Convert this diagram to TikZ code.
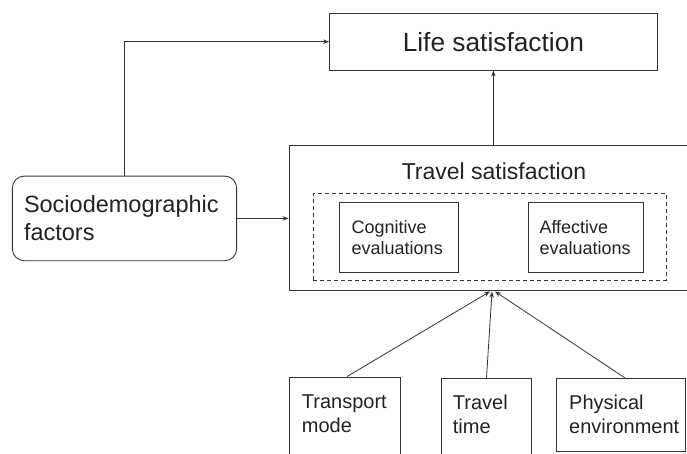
\documentclass[tikz,border=0pt]{standalone}
\usepackage{fontspec}
\setmainfont{Liberation Sans}
\usetikzlibrary{arrows.meta}
\definecolor{ink}{HTML}{222222}
\definecolor{edge}{HTML}{333333}
\begin{document}
\begin{tikzpicture}[x=1pt,y=-1pt,
  box/.style={draw=edge, line width=0.9pt, rectangle, inner sep=0pt, text=ink},
  lbl/.style={text=ink, inner sep=0pt, align=left},
  arr/.style={-{Stealth[length=6pt,width=4.5pt]}, draw=edge, line width=0.8pt}]
\useasboundingbox (0,0) rectangle (687,453);
\begin{scope}
\clip (0,0) rectangle (687,453);
% top box
\node[box, minimum width=327.8pt, minimum height=56.7pt, font=\fontsize{26.3}{30}\selectfont]
  (life) at (493.4,41.7) {Life satisfaction};
% travel satisfaction container
\node[box, minimum width=411pt, minimum height=145pt] (travel) at (494.5,217.5) {};
\node[lbl, font=\fontsize{23}{27}\selectfont] (title) at (494,171) {Travel satisfaction};
\node[box, dash pattern=on 4pt off 3pt, minimum width=353pt, minimum height=86.7pt]
  (eval) at (489.5,236.7) {};
\node[box, minimum width=119.2pt, minimum height=69.6pt, text width=95pt, inner xsep=12.1pt,
  align=left, font=\fontsize{18}{21.3}\selectfont]
  (cog) at (399.2,237.5) {Cognitive\\evaluations};
\node[box, minimum width=115pt, minimum height=69.6pt, text width=92pt, inner xsep=11.5pt,
  align=left, font=\fontsize{18}{21.3}\selectfont]
  (aff) at (585.5,237.5) {Affective\\evaluations};
% sociodemographic
\node[box, rounded corners=12pt, minimum width=224.3pt, minimum height=84.7pt, text width=201pt,
  inner xsep=11.65pt, align=left, font=\fontsize{23.5}{27.7}\selectfont]
  (socio) at (124.5,218.4) {Sociodemographic\\factors};
% bottom boxes
\node[box, minimum width=111.4pt, minimum height=93pt] (tm) at (345,423.5) {};
\node[box, minimum width=90.5pt, minimum height=93pt] (tt) at (486.5,424.8) {};
\node[box, minimum width=128.3pt, minimum height=73.2pt] (pe) at (620.9,414.9) {};
\node[lbl, anchor=north west, font=\fontsize{20}{23.3}\selectfont] (tmt) at (301.7,395) {Transport\\mode};
\node[lbl, anchor=north west, font=\fontsize{20}{23.3}\selectfont] (ttt) at (452.7,395) {Travel\\time};
\node[lbl, anchor=north west, font=\fontsize{20}{23.3}\selectfont] (pet) at (569,395) {Physical\\environment};
% connectors
\coordinate (h1) at (490,291.5);
\coordinate (h2) at (492,291.5);
\coordinate (h3) at (495,291.5);
\draw[arr] (socio.north) |- (life.west);
\draw[arr] (life.south |- travel.north) -- (life.south);
\draw[arr] (socio.east) -- (socio.east -| travel.west);
\draw[arr] ([xshift=2pt]tm.north) -- (h1);
\draw[arr] (tt.north) -- (h2);
\draw[arr] ([xshift=4pt]pe.north) -- (h3);
\end{scope}
\end{tikzpicture}
\end{document}
